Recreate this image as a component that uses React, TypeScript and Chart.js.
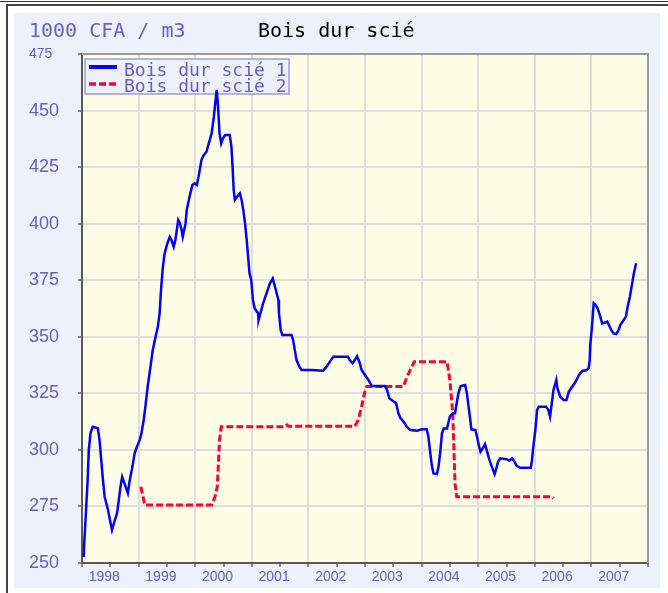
import React, { useEffect, useRef } from 'react';
import { Chart, registerables } from 'chart.js';

Chart.register(...registerables);

// ---------- data ----------
const unitLabel = '1000 CFA / m3';
const chartTitle = 'Bois dur scié';
const series1Name = 'Bois dur scié 1';
const series2Name = 'Bois dur scié 2';

const xMin = 1998;
const xMax = 2008;
const yMin = 250;
const yMax = 475;
const yStep = 25;

// decimal years
const series1X = [
  1998.03, 1998.04, 1998.07, 1998.1, 1998.12, 1998.15, 1998.19, 1998.28, 1998.31, 1998.34,
  1998.37, 1998.4, 1998.46, 1998.5, 1998.53, 1998.58, 1998.62, 1998.65, 1998.68, 1998.71,
  1998.75, 1998.78, 1998.81, 1998.84, 1998.89, 1998.93, 1998.97, 1999.02, 1999.05, 1999.09,
  1999.12, 1999.16, 1999.21, 1999.25, 1999.3, 1999.34, 1999.37, 1999.4, 1999.43, 1999.46,
  1999.5, 1999.55, 1999.58, 1999.62, 1999.65, 1999.7, 1999.73, 1999.76, 1999.78, 1999.83,
  1999.85, 1999.9, 1999.95, 1999.99, 2000.03, 2000.07, 2000.11, 2000.15, 2000.2, 2000.24,
  2000.29, 2000.33, 2000.36, 2000.38, 2000.4, 2000.43, 2000.46, 2000.49, 2000.53, 2000.61,
  2000.64, 2000.66, 2000.68, 2000.7, 2000.74, 2000.79, 2000.82, 2000.85, 2000.88, 2000.91,
  2000.93, 2000.96, 2000.99, 2001.02, 2001.05, 2001.11, 2001.12, 2001.2, 2001.26, 2001.32,
  2001.37, 2001.41, 2001.47, 2001.48, 2001.51, 2001.54, 2001.7, 2001.73, 2001.76, 2001.79,
  2001.84, 2001.88, 2002.06, 2002.26, 2002.32, 2002.38, 2002.44, 2002.7, 2002.73, 2002.78,
  2002.82, 2002.86, 2002.9, 2002.94, 2003.0, 2003.06, 2003.12, 2003.35, 2003.39, 2003.43,
  2003.47, 2003.55, 2003.59, 2003.63, 2003.68, 2003.74, 2003.8, 2003.92, 2004.0, 2004.09,
  2004.12, 2004.15, 2004.18, 2004.21, 2004.27, 2004.3, 2004.33, 2004.36, 2004.39, 2004.45,
  2004.47, 2004.5, 2004.55, 2004.59, 2004.62, 2004.65, 2004.69, 2004.77, 2004.8, 2004.83,
  2004.86, 2004.88, 2004.95, 2004.98, 2005.01, 2005.04, 2005.08, 2005.12, 2005.15, 2005.2,
  2005.24, 2005.29, 2005.32, 2005.35, 2005.39, 2005.51, 2005.55, 2005.6, 2005.64, 2005.68,
  2005.74, 2005.93, 2005.95, 2005.98, 2006.01, 2006.04, 2006.07, 2006.2, 2006.24, 2006.27,
  2006.3, 2006.33, 2006.38, 2006.4, 2006.45, 2006.51, 2006.56, 2006.6, 2006.66, 2006.72,
  2006.78, 2006.84, 2006.92, 2006.95, 2006.97, 2006.98, 2007.01, 2007.04, 2007.07, 2007.11,
  2007.15, 2007.19, 2007.23, 2007.28, 2007.31, 2007.35, 2007.39, 2007.44, 2007.48, 2007.51,
  2007.57, 2007.61, 2007.64, 2007.68, 2007.72, 2007.75, 2007.79,
];
const series1Y = [
  252.6, 258.8, 272.7, 286.7, 299.9, 307.4, 310.2, 309.6, 304.4, 295.5,
  286.7, 279.3, 273.4, 268.2, 264.6, 269, 272, 277.8, 283.7, 288.1,
  285.3, 283, 280.9, 286, 292.5, 298.5, 301.4, 304.4, 307.3, 313.2,
  319.1, 327.9, 336.8, 344.1, 350, 354.4, 360, 372.1, 381, 386.9,
  390.6, 394.2, 392.8, 389.8, 392.8, 401.6, 400.2, 397.2, 394.2, 400.2,
  406, 411.9, 417.1, 417.8, 417.1, 422.3, 428.1, 430.3, 431.8, 435.5,
  439.9, 447.3, 454.7, 459.1, 453.2, 439.9, 435.5, 437.7, 439.2, 439.2,
  434, 425.2, 414.9, 410.5, 411.9, 413.4, 410.5, 406, 400.2, 392.8,
  386.9, 378, 375.1, 366.3, 362.6, 360.4, 357.4, 364.8, 369.2, 373.6,
  375.8, 372.1, 366.3, 360.4, 353, 350.8, 350.8, 348.6, 344.1, 339.7,
  336.8, 335.3, 335.3, 335, 336.8, 339, 341.2, 341.2, 339.7, 338.3,
  339.7, 341.4, 339, 335.3, 333.1, 330.9, 328.2, 328.2, 326.5, 322.8,
  322, 320.6, 316.2, 314, 312.5, 310.2, 308.8, 308.5, 309.1, 309.1,
  305.8, 299.2, 293.3, 289.6, 289.3, 292.6, 299.2, 307.3, 309.5, 309.5,
  311.8, 314.7, 316.2, 316.2, 320.6, 325, 328.2, 328.7, 325, 319.1,
  313.2, 309.1, 308.8, 305.8, 302.1, 299.2, 300.7, 302.6, 299.9, 295.5,
  292.6, 289.3, 291.8, 294.8, 296.3, 295.8, 295.2, 296.3, 294.8, 292.9,
  292.1, 292.1, 295.5, 302.8, 308.8, 317.6, 319.1, 319.1, 317.6, 314.7,
  320.6, 326.5, 330.9, 327.2, 323.5, 322, 322, 325.7, 327.9, 330.1,
  333.1, 334.9, 335.3, 336.1, 339.7, 346.4, 354.4, 364.8, 364.1, 362.6,
  359.6, 355.9, 356.2, 356.7, 355.2, 353, 351.5, 351.2, 353, 355.2,
  357.4, 358.9, 363.3, 367.7, 373.6, 378, 382.5,
];

const series2X = [
  1999.04, 1999.11, 2000.29, 2000.35, 2000.39, 2000.43, 2000.46, 2001.58, 2001.62, 2001.65,
  2002.82, 2002.88, 2002.94, 2002.99, 2003.03, 2003.68, 2003.74, 2003.83, 2003.87, 2004.45,
  2004.5, 2004.55, 2004.57, 2004.59, 2004.62, 2006.3, 2006.33,
];
const series2Y = [
  283.7, 275.6, 275.6, 279.3, 283.7, 304.4, 310.2, 310.2, 311.0, 310.4,
  310.4, 313.2, 319.1, 325, 328, 328, 332.3, 336.8, 339, 339,
  330.9, 316.3, 301.4, 285.2, 279.3, 279.3, 278.6,
];

// ---------- styles ----------
const MONO = '"DejaVu Sans Mono", monospace';
const SANS = '"Liberation Sans", Arial, sans-serif';
const TEXT_BLUE = '#6262cc';
const LINE1 = '#0000ff';
const LINE2 = '#ff0033';
const PLOT_BG = '#fefde6';
const PANEL_BG = '#edf1fb';
const GRID = '#dedede';

const CANVAS_W = 646;
const CANVAS_H = 575;

const toPoints = (xs: number[], ys: number[]) => xs.map((x, i) => ({ x, y: ys[i] }));

export default function App() {
  const ref = useRef<HTMLCanvasElement | null>(null);

  useEffect(() => {
    if (!ref.current) return;

    const plotBg = {
      id: 'plotBg',
      beforeDraw(chart: any) {
        const { ctx, chartArea: a } = chart;
        ctx.save();
        ctx.fillStyle = PLOT_BG;
        ctx.fillRect(a.left, a.top, a.right - a.left, a.bottom - a.top);
        ctx.restore();
      },
    };

    const frameAndLegend = {
      id: 'frameAndLegend',
      beforeDatasetsDraw(chart: any) {
        const { ctx, chartArea: a } = chart;
        ctx.save();
        // top & right plot border
        ctx.strokeStyle = '#9a9a9a';
        ctx.lineWidth = 2;
        ctx.beginPath();
        ctx.moveTo(a.left, a.top);
        ctx.lineTo(a.right, a.top);
        ctx.lineTo(a.right, a.bottom);
        ctx.stroke();

        // legend box
        const bx = a.left + 3;
        const by = a.top + 5;
        const bw = 204;
        const bh = 35;
        ctx.fillStyle = '#eef0fb';
        ctx.fillRect(bx, by, bw, bh);
        ctx.strokeStyle = '#9c9cde';
        ctx.lineWidth = 1.5;
        ctx.strokeRect(bx, by, bw, bh);

        // samples
        ctx.lineWidth = 4;
        ctx.strokeStyle = LINE1;
        ctx.beginPath();
        ctx.moveTo(bx + 4, by + 8);
        ctx.lineTo(bx + 32, by + 8);
        ctx.stroke();

        ctx.strokeStyle = LINE2;
        ctx.lineWidth = 3.5;
        ctx.setLineDash([7, 3]);
        ctx.beginPath();
        ctx.moveTo(bx + 4, by + 25);
        ctx.lineTo(bx + 31, by + 25);
        ctx.stroke();
        ctx.setLineDash([]);

        ctx.fillStyle = TEXT_BLUE;
        ctx.font = `18px ${MONO}`;
        ctx.textBaseline = 'alphabetic';
        ctx.textAlign = 'left';
        ctx.fillText(chart.data.datasets[0].label, bx + 39, by + 17);
        ctx.fillText(chart.data.datasets[1].label, bx + 39, by + 33);
        ctx.restore();
      },
    };

    const titles = {
      id: 'titles',
      afterDraw(chart: any) {
        const { ctx } = chart;
        ctx.save();
        ctx.textBaseline = 'alphabetic';
        ctx.textAlign = 'left';
        ctx.font = `20px ${MONO}`;
        ctx.fillStyle = TEXT_BLUE;
        ctx.fillText(unitLabel, 15, 24);
        ctx.fillStyle = '#000000';
        ctx.fillText(chartTitle, 244, 24);
        ctx.restore();
      },
    };

    const chart = new Chart(ref.current, {
      type: 'line',
      data: {
        datasets: [
          {
            label: series1Name,
            data: toPoints(series1X, series1Y),
            borderColor: LINE1,
            borderWidth: 2.5,
            pointRadius: 0,
            fill: false,
            tension: 0,
          },
          {
            label: series2Name,
            data: toPoints(series2X, series2Y),
            borderColor: LINE2,
            borderWidth: 3,
            borderDash: [7, 3],
            pointRadius: 0,
            fill: false,
            tension: 0,
          },
        ],
      },
      options: {
        animation: false,
        responsive: false,
        devicePixelRatio: 1,
        parsing: false,
        layout: { padding: { left: 15, right: 12, top: 41, bottom: 0 } },
        plugins: {
          legend: { display: false },
          title: { display: false },
          tooltip: { enabled: false },
        },
        scales: {
          x: {
            type: 'linear',
            min: xMin,
            max: xMax,
            afterFit(scale: any) {
              scale.height = 25;
            },
            afterBuildTicks(scale: any) {
              const t = [];
              for (let v = xMin; v <= xMax + 1e-9; v += 0.5) t.push({ value: v });
              scale.ticks = t;
            },
            ticks: {
              autoSkip: false,
              maxRotation: 0,
              minRotation: 0,
              padding: 2,
              labelOffset: -6,
              color: TEXT_BLUE,
              font: { family: SANS, size: 14 },
              callback: (v: any) => {
                const n = Number(v);
                return Math.abs(n - Math.floor(n) - 0.5) < 1e-6 ? String(Math.floor(n)) : '';
              },
            },
            grid: {
              color: (c: any) => {
                const v = c.tick ? c.tick.value : 0;
                return Math.abs(v - Math.round(v)) < 1e-6 ? GRID : 'rgba(0,0,0,0)';
              },
              lineWidth: 2,
              tickLength: 4,
              tickColor: '#666666',
              tickWidth: 1.5,
            },
            border: { display: true, color: '#5a5a5a', width: 2 },
          },
          y: {
            type: 'linear',
            min: yMin,
            max: yMax,
            afterFit(scale: any) {
              scale.width = 53;
            },
            ticks: {
              stepSize: yStep,
              crossAlign: 'far',
              color: TEXT_BLUE,
              font: (c: any) => ({
                family: SANS,
                size: c.tick && c.tick.value === yMax ? 14 : 18,
              }),
            },
            grid: {
              color: GRID,
              lineWidth: 2,
              tickLength: 4,
              tickColor: '#666666',
              tickWidth: 1.5,
            },
            border: { display: true, color: '#5a5a5a', width: 2 },
          },
        },
      },
      plugins: [plotBg, frameAndLegend, titles],
    } as any);

    return () => chart.destroy();
  }, []);

  return (
    <div
      style={{
        position: 'fixed',
        left: 0,
        top: 0,
        width: 668,
        height: 593,
        background: '#ffffff',
        overflow: 'hidden',
      }}
    >
      <div style={{ position: 'absolute', left: 0, top: 1, width: 668, height: 1, background: '#333' }} />
      <div
        style={{
          position: 'absolute',
          left: 6,
          top: 4,
          width: 700,
          height: 620,
          borderTop: '2px solid #444',
          borderLeft: '2px solid #444',
          background: '#ffffff',
        }}
      />
      <div
        style={{
          position: 'absolute',
          left: 14,
          top: 13,
          width: CANVAS_W,
          height: CANVAS_H,
          background: PANEL_BG,
        }}
      >
        <canvas
          ref={ref}
          width={CANVAS_W}
          height={CANVAS_H}
          style={{ display: 'block', width: CANVAS_W, height: CANVAS_H }}
        />
      </div>
    </div>
  );
}
